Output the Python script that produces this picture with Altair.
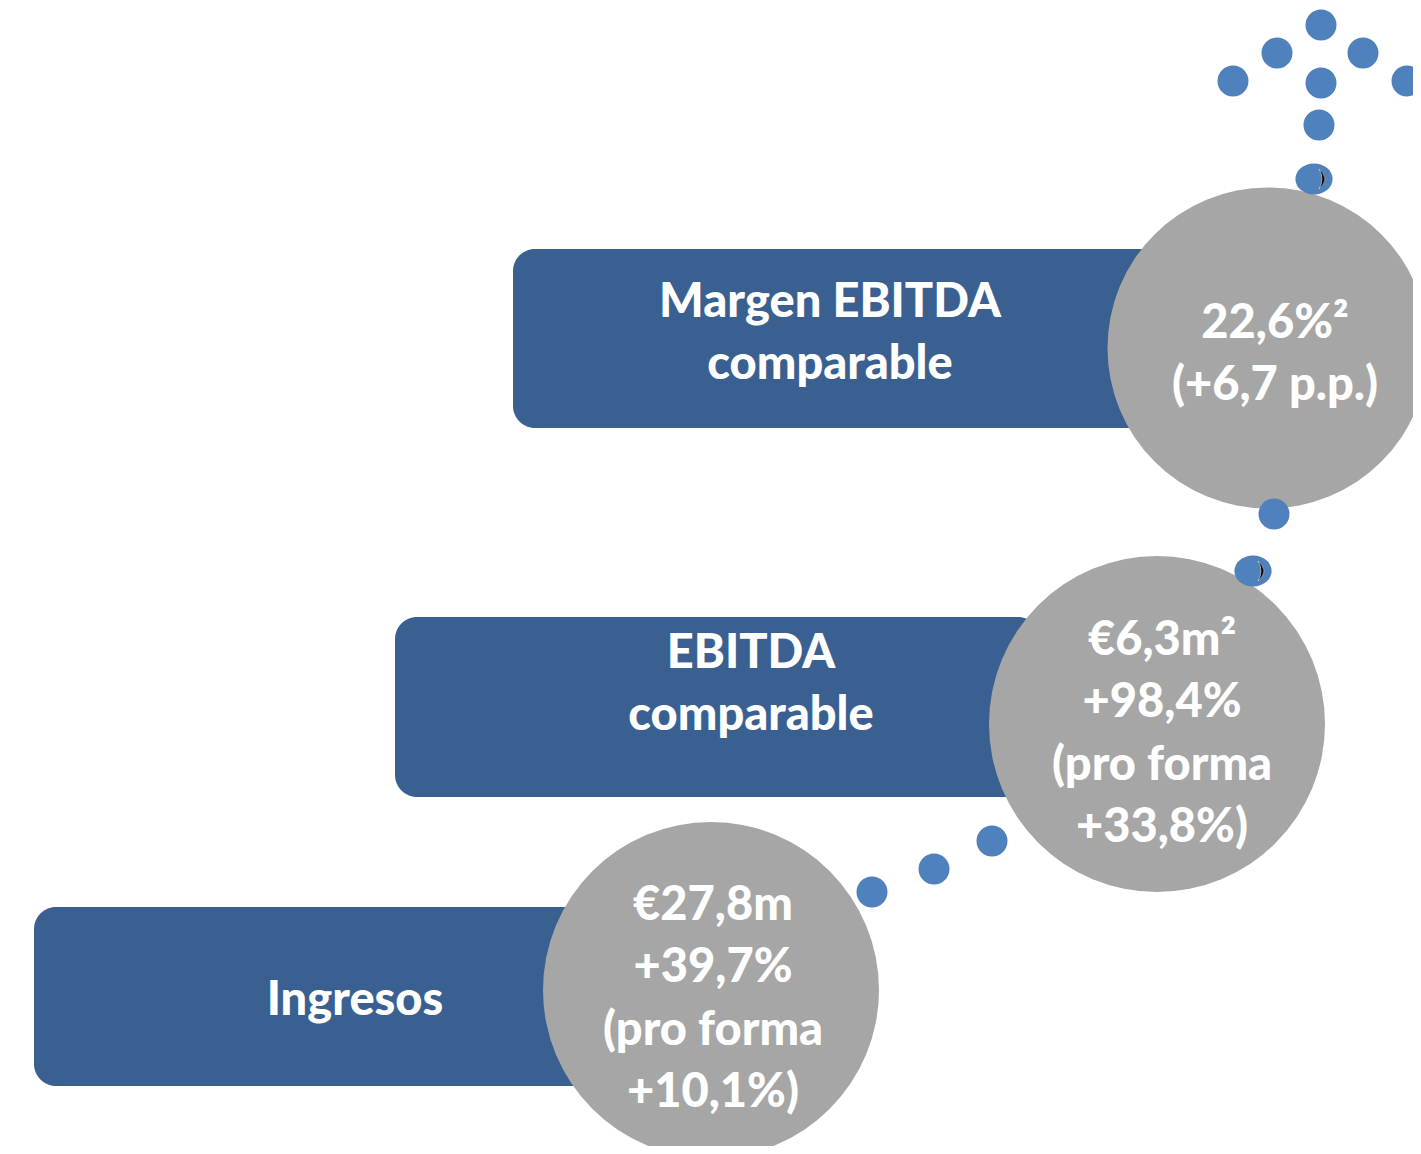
import altair as alt
import pandas as pd

# ---- content ----
bar_lines = [["Ingresos"], ["EBITDA", "comparable"], ["Margen EBITDA", "comparable"]]
value_lines = [
    ["€27,8m", "+39,7%", "(pro forma", "+10,1%)"],
    ["€6,3m²", "+98,4%", "(pro forma", "+33,8%)"],
    ["22,6%²", "(+6,7 p.p.)"],
]

# ---- layout (pixel coordinates of the picture) ----
bar_x0 = [34, 395, 513]
bar_x1 = [640, 1040, 1170]
bar_y0 = [907, 617, 249]
bar_y1 = [1086, 797, 428]
circle_cx = [711, 1157, 1268]
circle_cy = [990, 724, 348]
circle_d = [336, 336, 321]
bar_text_x = [355, 751, 830]
bar_text_y0 = [1001, 654, 303]
value_text_x = [713, 1162, 1275]
value_text_y0 = [906, 641, 324]
line_step = 62.3
dots_x = [1321, 1277, 1363, 1233, 1321, 1407, 1319, 1274, 872, 934, 992]
dots_y = [25, 53, 53, 81, 83, 81, 125, 514, 892, 869, 841]
oval_x = [1314, 1253]
oval_y = [179, 571]
crescent_x = [1322, 1261]
crescent_y = [179, 571]
dot_d = 31

W, H = 1405, 1138
X0, Y0 = 8, 8
xs = alt.Scale(domain=[X0, X0 + W])
ys = alt.Scale(domain=[Y0, Y0 + H], reverse=True)

bars = pd.DataFrame({"x0": bar_x0, "x1": bar_x1, "y0": bar_y0, "y1": bar_y1})
circles = pd.DataFrame({"x": circle_cx, "y": circle_cy, "s": [d * d for d in circle_d]})
dots = pd.DataFrame({"x": dots_x, "y": dots_y, "s": [dot_d * dot_d] * len(dots_x)})
ovals = pd.DataFrame({"x": oval_x, "y": oval_y})
crescents = pd.DataFrame({"x": crescent_x, "y": crescent_y})

rows = []
for i, lines in enumerate(bar_lines):
    for j, t in enumerate(lines):
        rows.append({"x": bar_text_x[i], "y": bar_text_y0[i] + j * line_step, "t": t})
for i, lines in enumerate(value_lines):
    for j, t in enumerate(lines):
        rows.append({"x": value_text_x[i], "y": value_text_y0[i] + j * line_step, "t": t})
texts = pd.DataFrame(rows)

X = lambda f: alt.X(f, scale=xs, axis=None)
Y = lambda f: alt.Y(f, scale=ys, axis=None)

bar_layer = alt.Chart(bars).mark_rect(cornerRadius=22, color="#3A6091", clip=True).encode(
    x=X("x0:Q"), x2="x1:Q", y=Y("y0:Q"), y2="y1:Q",
)

circle_layer = alt.Chart(circles).mark_point(
    shape="circle", filled=True, color="#A6A6A6", opacity=1, clip=True
).encode(x=X("x:Q"), y=Y("y:Q"), size=alt.Size("s:Q", scale=None, legend=None))

dot_layer = alt.Chart(dots).mark_point(
    shape="circle", filled=True, color="#4F81BD", opacity=1, clip=True
).encode(x=X("x:Q"), y=Y("y:Q"), size=alt.Size("s:Q", scale=None, legend=None))

oval_layer = alt.Chart(ovals).mark_point(
    shape="M -1.2 0 A 1.2 1 0 1 1 1.2 0 A 1.2 1 0 1 1 -1.2 0 Z",
    filled=True, color="#4F81BD", opacity=1, size=dot_d * dot_d, clip=True
).encode(x=X("x:Q"), y=Y("y:Q"))

crescent_layer = alt.Chart(crescents).mark_point(
    shape="M -0.3 -1 Q 0.9 0 -0.3 1 Q 0.3 0 -0.3 -1 Z",
    filled=True, color="#000000", opacity=1, size=400, clip=True,
    stroke="#FFFFFF", strokeWidth=0.5
).encode(x=X("x:Q"), y=Y("y:Q"))

text_layer = alt.Chart(texts).mark_text(
    font="Lato", fontWeight=900, fontSize=47, color="white",
    align="center", baseline="middle", clip=True
).encode(x=X("x:Q"), y=Y("y:Q"), text="t:N")

chart = alt.layer(
    bar_layer, circle_layer, dot_layer, oval_layer, crescent_layer, text_layer
).properties(
    width=W, height=H, padding=0, autosize=alt.AutoSizeParams(type="none")
).configure_view(stroke=None)

chart.save("out.html", embed_options={"renderer": "svg", "actions": False})
